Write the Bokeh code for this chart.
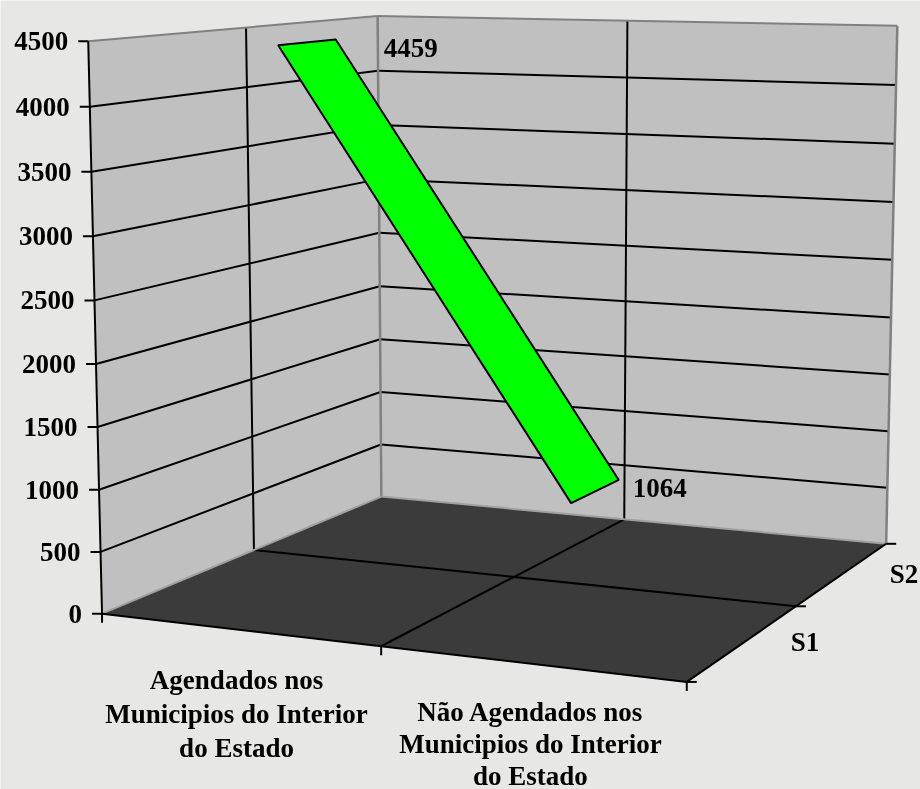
import numpy as np
from bokeh.plotting import figure
from bokeh.embed import file_html
from bokeh.resources import INLINE
from bokeh.core.properties import value

categories = ["Agendados nos\nMunicipios do Interior\ndo Estado",
              "Não Agendados nos\nMunicipios do Interior\ndo Estado"]
series_names = ["S1", "S2"]
s1_values = [4459, 1064]
s1_labels = ["4459", "1064"]
y_ticks = [0, 500, 1000, 1500, 2000, 2500, 3000, 3500, 4000, 4500]

W, H = 920, 789
YMAX = y_ticks[-1]
# camera fitted to the box corners: (category, value, depth) -> page pixels
anchors = [((0, 0, 0), (102, 613)), ((2, 0, 0), (687, 683)), ((0, 0, 2), (380, 497)),
           ((2, 0, 2), (886, 543)), ((0, YMAX, 0), (88, 41)), ((0, YMAX, 2), (378, 15)),
           ((2, YMAX, 2), (896, 25)), ((0, 0, 1), (254, 549)), ((1, 0, 0), (380, 645)),
           ((1, YMAX, 2), (628, 21)), ((2, 0, 1), (795, 605)), ((0, YMAX, 1), (244, 27))]
A = []
for (x, y, z), (u, v) in anchors:
    y = y / YMAX
    A.append([x, y, z, 1, 0, 0, 0, 0, -u*x, -u*y, -u*z, -u])
    A.append([0, 0, 0, 0, x, y, z, 1, -v*x, -v*y, -v*z, -v])
M = np.linalg.svd(np.array(A, float))[2][-1].reshape(3, 4)

def P(x, y, z):
    q = M @ np.array([x, y / YMAX, z, 1.0])
    return q[0] / q[2], q[1] / q[2]

def poly(*pts):
    xy = [P(*a) for a in pts]
    return [a[0] for a in xy], [a[1] for a in xy]

p = figure(width=W, height=H, x_range=(0, W), y_range=(H, 0), output_backend="svg",
           toolbar_location=None, min_border=0, outline_line_color=None,
           background_fill_color="#e7e7e5", border_fill_color="#e7e7e5",
           styles={"position": "fixed", "left": "0px", "top": "0px"})
p.axis.visible = False
p.grid.visible = False

def line(a, b, color="black", width=2):
    xs, ys = poly(a, b)
    p.line(xs, ys, line_color=color, line_width=width)

# walls and floor
xs, ys = poly((0, 0, 0), (0, YMAX, 0), (0, YMAX, 2), (0, 0, 2))
p.patch(xs, ys, fill_color="#c0c0c0", line_color=None)
xs, ys = poly((0, 0, 2), (0, YMAX, 2), (2, YMAX, 2), (2, 0, 2))
p.patch(xs, ys, fill_color="#c0c0c0", line_color=None)
xs, ys = poly((0, 0, 0), (2, 0, 0), (2, 0, 2), (0, 0, 2))
p.patch(xs, ys, fill_color="#3b3b3b", line_color=None)

# grid
for t in y_ticks[1:-1]:
    line((0, t, 0), (0, t, 2))
    line((0, t, 2), (2, t, 2))
line((0, 0, 1), (0, YMAX, 1))
line((1, 0, 2), (1, YMAX, 2))
line((0, 0, 1), (2, 0, 1))
line((1, 0, 0), (1, 0, 2))

# wall edges
line((0, YMAX, 0), (0, YMAX, 2), "#808080")
line((0, YMAX, 2), (2, YMAX, 2), "#808080")
line((0, 0, 2), (0, YMAX, 2), "#808080", 2.5)
line((2, 0, 2), (2, YMAX, 2), "#808080", 2.5)
line((0, 0, 0), (0, 0, 2), "#a0a0a0")
line((0, 0, 2), (2, 0, 2), "#a0a0a0")

# front axes
line((0, 0, 0), (0, YMAX, 0))
line((0, 0, 0), (2, 0, 0))
line((2, 0, 0), (2, 0, 2))

# ticks
for t in y_ticks:
    u, v = P(0, t, 0)
    p.line([u - 10, u], [v, v], line_color="black", line_width=2)
for c in (0, 1, 2):
    u, v = P(c, 0, 0)
    p.line([u, u], [v, v + 9], line_color="black", line_width=2)
for d in (0, 1, 2):
    u, v = P(2, 0, d)
    p.line([u, u + 10], [v, v], line_color="black", line_width=2)

# series ribbon
D0, D1 = 0.31, 0.70
xs, ys = poly((0.5, s1_values[0], D0), (0.5, s1_values[0], D1),
              (1.5, s1_values[1], D1), (1.5, s1_values[1], D0))
p.patch(xs, ys, fill_color="#00ff00", line_color="black", line_width=2)

FONT = value("Liberation Serif")
def label(x, y, s, align="center", size="27px"):
    p.text([x], [y], text=[s], text_font=FONT, text_font_style="bold", text_font_size=size,
           text_align=align, text_baseline="middle", text_color="black")

# value labels
for (c, v, s, dx, dy) in zip((0.5, 1.5), s1_values, s1_labels, (48, 14), (8, 8)):
    u, w = P(c, v, D1)
    label(u + dx, w + dy, s, "left")

# tick labels
for t in y_ticks:
    u, v = P(0, t, 0)
    label(u - 20, v, str(t), "right")

# category labels
for c, txt in zip((0.5, 1.5), categories):
    u = P(c, 0, 0)[0]
    for i, row in enumerate(txt.split("\n")):
        if c < 1:
            label(u - 2, 679 + 34 * i, row)
        else:
            label(u, 711 + 32 * i, row)

# depth labels
for d, s in zip((0.5, 1.5), series_names):
    u, v = P(2, 0, d)
    label(u + 61, v, s)

open("out.html", "w").write(file_html(p, INLINE))
